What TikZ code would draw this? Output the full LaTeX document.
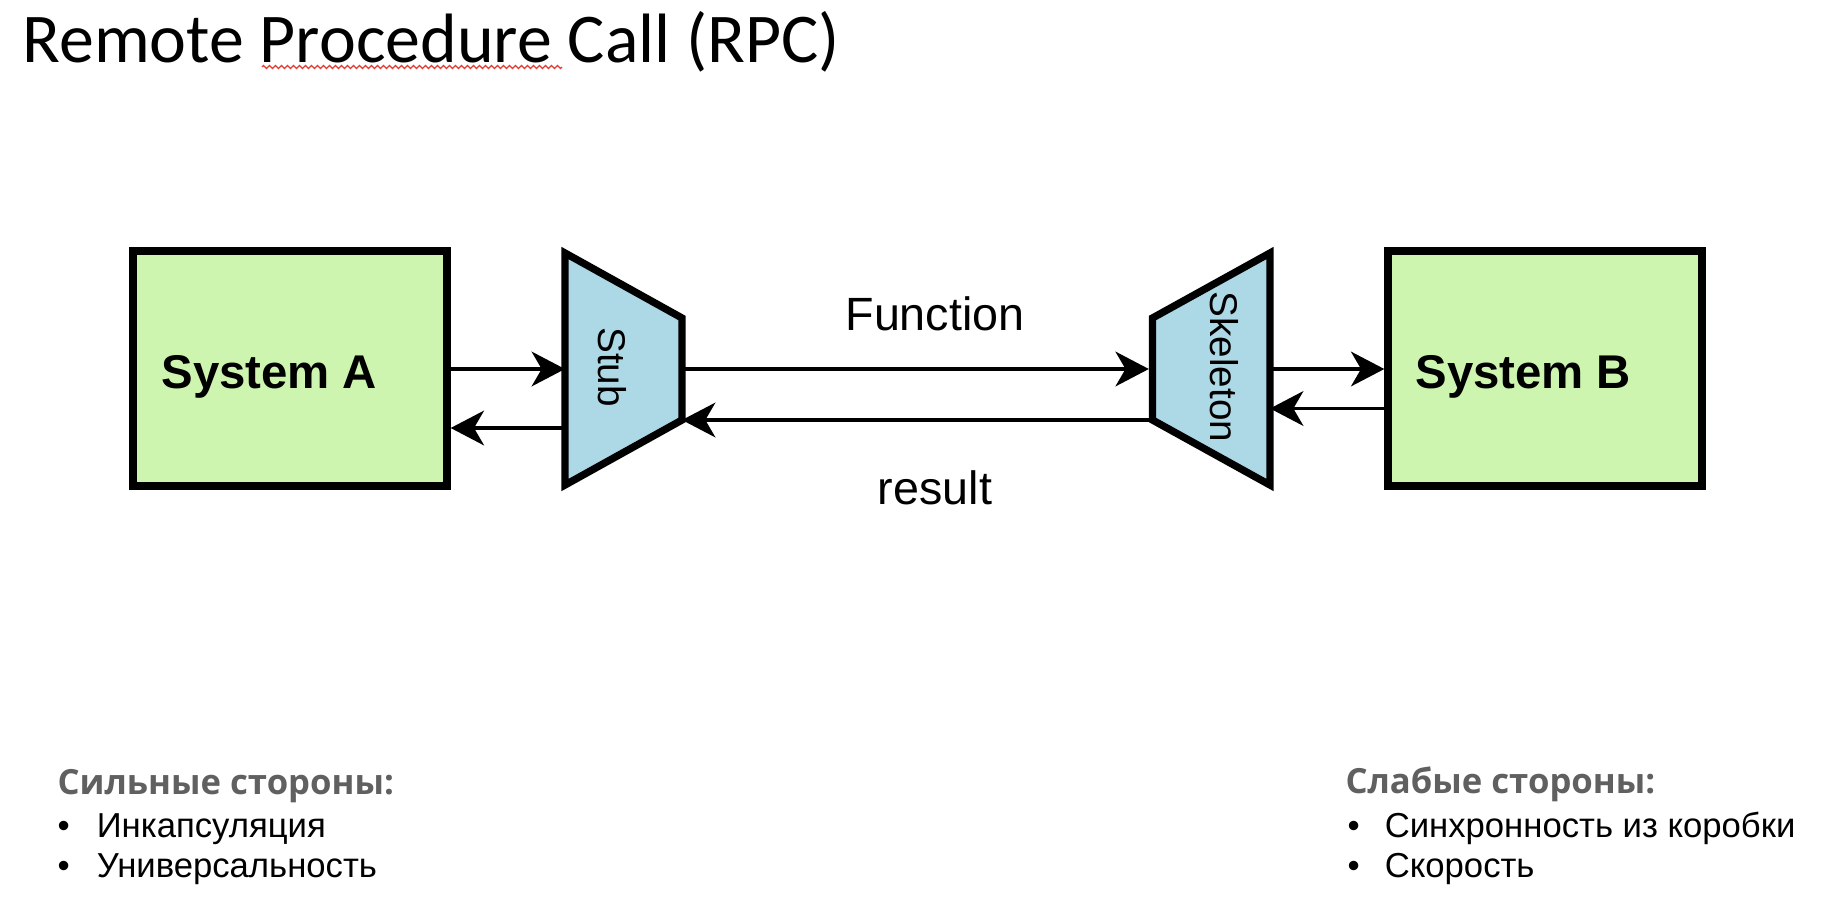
\documentclass[tikz,border=0pt]{standalone}
\usepackage{fontspec}
\setmainfont{Liberation Sans}
\newfontfamily\titlefont{Carlito}
\newfontfamily\headfont{Open Sans}
\usetikzlibrary{arrows.meta,decorations.pathmorphing}

\definecolor{sysgreen}{RGB}{205,245,176}
\definecolor{stubblue}{RGB}{173,216,230}
\definecolor{headgray}{RGB}{96,96,96}
\definecolor{spellred}{RGB}{226,60,50}

\tikzset{every picture/.style={line width=0.75pt}}
\tikzset{
  sysbox/.style={draw, fill=sysgreen, line width=5.5pt, minimum width=235.5pt, minimum height=176.25pt, inner sep=0pt},
  trapbox/.style={draw, fill=stubblue, line width=5.5pt, line join=miter},
  flow/.style={line width=2.6pt, -{Stealth[length=25pt,width=26pt,inset=7.5pt]}},
  systext/.style={anchor=base west, inner sep=0pt, font=\bfseries\fontsize{35.5}{41}\selectfont},
  msgtext/.style={anchor=base, inner sep=0pt, font=\fontsize{35}{41}\selectfont},
  traptext/.style={inner sep=0pt, rotate=-90, font=\fontsize{29}{34}\selectfont},
  headtext/.style={anchor=base west, inner sep=0pt, text=headgray, font=\headfont\bfseries\fontsize{26}{31}\selectfont},
  itemtext/.style={anchor=base west, inner sep=0pt, font=\fontsize{26}{31}\selectfont},
}

\begin{document}
\begin{tikzpicture}[x=0.75pt,y=0.75pt,yscale=-1,xscale=1]
		\fill[white] (0,0) rectangle (1830,918);
		\useasboundingbox (0,0) rectangle (1830,918);
		
		%Title
		\node[anchor=base west, inner sep=0pt, font=\titlefont\fontsize{52.4}{60}\selectfont] (title) at (22,62) {Remote Procedure Call (RPC)};
		\coordinate (typoL) at (262,67);
		\coordinate (typoR) at (562,67);
		\draw[spellred, line width=0.9pt, decorate, decoration={zigzag, segment length=4.5pt, amplitude=1.2pt}] (typoL) -- (typoR);
		
		%Shape: Rectangle [System A]
		\node[sysbox] (sysA) at (290,368.5) {};
		%Shape: Rectangle [System B]
		\node[sysbox] (sysB) at (1545,368.5) {};
		
		%Shape: Trapezoid [Stub]
		\coordinate (stubTL) at (565,253);
		\coordinate (stubTR) at (682,318);
		\coordinate (stubBR) at (682,420);
		\coordinate (stubBL) at (565,485);
		\draw[trapbox] (stubTL) -- (stubTR) -- (stubBR) -- (stubBL) -- cycle;
		%Shape: Trapezoid [Skeleton]
		\coordinate (skelTL) at (1152.5,318);
		\coordinate (skelTR) at (1270,253);
		\coordinate (skelBR) at (1270,485);
		\coordinate (skelBL) at (1152.5,420);
		\draw[trapbox] (skelTL) -- (skelTR) -- (skelBR) -- (skelBL) -- cycle;
		
		%rows of the arrows
		\coordinate (callrow) at (0,369);
		\coordinate (retA) at (0,428);
		\coordinate (retF) at (0,420);
		\coordinate (retB) at (0,408.5);
		
		\draw[flow] (sysA.east |- callrow) -- (stubTL |- callrow);
		\draw[flow] (stubBL |- retA) -- (sysA.east |- retA);
		\draw[flow, shorten >=2.75pt] (stubTR |- callrow) -- (skelTL |- callrow);
		\draw[flow] (skelBL |- retF) -- (stubBR);
		\draw[flow] (skelTR |- callrow) -- (sysB.west |- callrow);
		\draw[flow] (sysB.west |- retB) -- (skelTR |- retB);
		
		\node[systext] (labA) at (161,388) {System A};
		\node[systext] (labB) at (1415,388) {System B};
		\node[traptext] (stub) at (612.5,367) {Stub};
		\node[traptext] (skel) at (1224,367) {Skeleton};
		\node[msgtext] (func) at (935,330) {Function};
		\node[msgtext] (res) at (935,504) {result};
		
		%Pros and cons
		\node[headtext] (prohead) at (57,794) {Сильные стороны:};
		\node[itemtext] (pro1) at (57,837) {\makebox[29.5pt][l]{•}Инкапсуляция};
		\node[itemtext] (pro2) at (57,877) {\makebox[29.5pt][l]{•}Универсальность};
		\node[headtext] (conhead) at (1345,793) {Слабые стороны:};
		\node[itemtext] (con1) at (1347,837) {\makebox[28pt][l]{•}Синхронность из коробки};
		\node[itemtext] (con2) at (1347,877) {\makebox[28pt][l]{•}Скорость};
		
	\end{tikzpicture}
\end{document}
